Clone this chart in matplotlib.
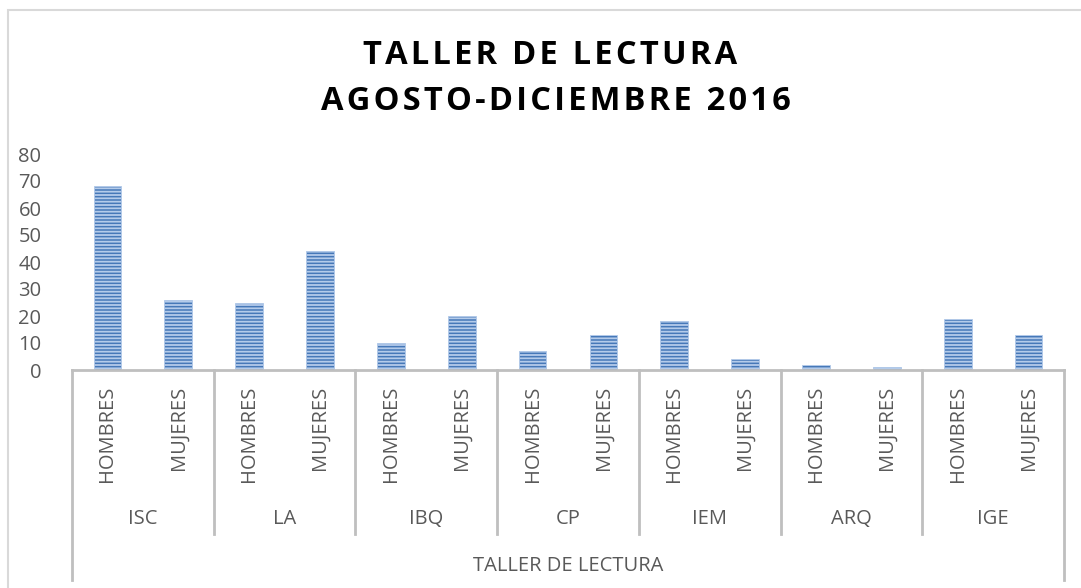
import matplotlib
matplotlib.use("Agg")
import matplotlib.pyplot as plt
from matplotlib.patches import Rectangle

groups = ["ISC", "LA", "IBQ", "CP", "IEM", "ARQ", "IGE"]
subcats = ["HOMBRES", "MUJERES"]
hombres = [68, 25, 10, 7, 18, 2, 19]
mujeres = [26, 44, 20, 13, 4, 1, 13]
title_lines = ["TALLER DE LECTURA", "AGOSTO-DICIEMBRE 2016"]
axis_title = "TALLER DE LECTURA"
yticks = [0, 10, 20, 30, 40, 50, 60, 70, 80]

W, H = 1081, 588
plt.rcParams['font.family'] = ['Open Sans', 'DejaVu Sans']
plt.rcParams['hatch.linewidth'] = 1.3
fig = plt.figure(figsize=(W / 100, H / 100), dpi=100)

ax_left, ax_right, ax_base, ax_top = 72, 1064, 370, 154
ax = fig.add_axes([ax_left / W, (H - ax_base) / H, (ax_right - ax_left) / W, (ax_base - ax_top) / H])

values = []
labels = []
for h, m in zip(hombres, mujeres):
    values += [h, m]
    labels += subcats
x = list(range(len(values)))
ax.bar(x, values, width=0.39, color='#4678b8', edgecolor='#b4cbea', linewidth=0.6, hatch='-----')

ax.set_xlim(-0.5, len(values) - 0.5)
ax.set_ylim(0, 80)
ax.set_yticks(yticks)
ax.tick_params(axis='y', length=0, pad=22, labelsize=14.5, labelcolor='#595959')
ax.set_xticks([])
for s in ['left', 'right', 'top']:
    ax.spines[s].set_visible(False)
ax.spines['bottom'].set_color('#bfbfbf')
ax.spines['bottom'].set_linewidth(2)

axh = ax_base - ax_top
trans = ax.get_xaxis_transform()
# separators
n = len(groups)
for i in range(n + 1):
    xs = 2 * i - 0.5
    y_end = -(534 - ax_base) / axh
    if i == 0 or i == n:
        y_end = -(580 - ax_base) / axh
    ax.plot([xs, xs], [0, y_end], transform=trans, color='#bfbfbf', lw=2, clip_on=False)

for xi, lab in zip(x, labels):
    ax.text(xi, -(386 - ax_base) / axh, lab, transform=trans, rotation=90, ha='center', va='top',
            fontsize=14.5, color='#595959')
for i, g in enumerate(groups):
    ax.text(2 * i + 0.5, -(519 - ax_base) / axh, g, transform=trans, ha='center', va='center',
            fontsize=14.5, color='#595959')
ax.text((len(values) - 1) / 2, -(566 - ax_base) / axh, axis_title, transform=trans, ha='center', va='center',
        fontsize=14.5, color='#595959')

# titles
spaced = ["\u200a".join(list(t)) for t in title_lines]
fig.text(550 / W, 1 - 55 / H, spaced[0], ha='center', va='center', fontsize=23.5, fontweight='bold', color='black')
fig.text(556 / W, 1 - 101 / H, spaced[1], ha='center', va='center', fontsize=23.5, fontweight='bold', color='black')

# outer chart border
fig.patches.append(Rectangle((8 / W, -0.5), 2, 1.5 - 10 / H, transform=fig.transFigure, fill=False,
                             edgecolor='#d9d9d9', lw=1.5))

fig.savefig("out.png", dpi=100)
